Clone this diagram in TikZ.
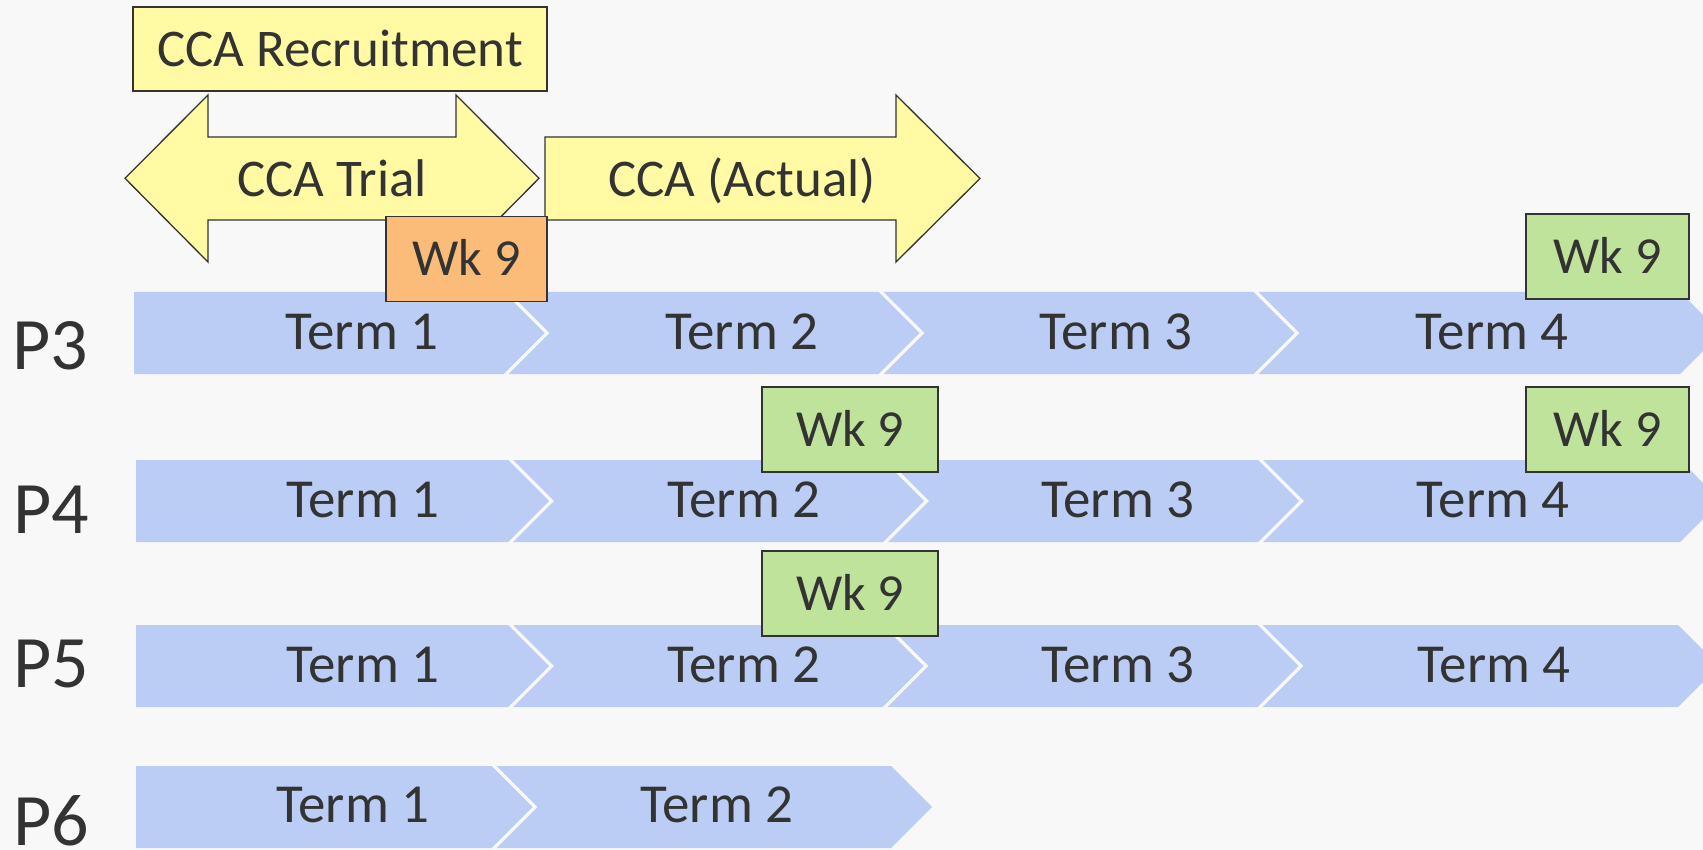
\documentclass[tikz,border=0pt]{standalone}
\usepackage{fontspec}
\setmainfont{Carlito}
\definecolor{bg}{HTML}{F8F8F8}
\definecolor{termblue}{HTML}{BBCDF4}
\definecolor{ccayellow}{HTML}{FFFAA3}
\definecolor{wkorange}{HTML}{FABC78}
\definecolor{wkgreen}{HTML}{C0E39B}
\definecolor{txt}{HTML}{333333}
\definecolor{edge}{HTML}{333333}
% first chevron: left x, right boundary b, top y
\newcommand\chevfirst[3]{\fill[termblue] (#1,#3) -- ({#2-43.5},#3) -- ({#2-2.5},{#3+41}) -- ({#2-43.5},{#3+82}) -- (#1,{#3+82}) -- cycle;}
% later chevron: previous boundary a, next boundary b, top y
\newcommand\chevnext[3]{\fill[termblue] ({#1-38.5},#3) -- ({#2-43.5},#3) -- ({#2-2.5},{#3+41}) -- ({#2-43.5},{#3+82}) -- ({#1-38.5},{#3+82}) -- ({#1+2.5},{#3+41}) -- cycle;}
\begin{document}
\begin{tikzpicture}[x=1pt,y=-1pt,
  termtxt/.style={inner sep=0pt, text=txt, font=\fontsize{55}{60}\selectfont, anchor=base},
  ccatxt/.style={termtxt, font=\fontsize{53}{58}\selectfont},
  plabel/.style={inner sep=0pt, text=txt, font=\fontsize{74}{80}\selectfont, anchor=base west},
  ccashape/.style={fill=ccayellow, draw=edge, line width=1.3pt, line join=miter},
  boxbase/.style={draw=edge, line width=1.3pt, inner sep=0pt, text=txt, text height=34.5pt, text depth=0pt, align=center},
  ccabox/.style={boxbase, fill=ccayellow, font=\fontsize{53}{58}\selectfont, minimum height=84pt},
  wkbox/.style={boxbase, font=\fontsize{52}{58}\selectfont, text height=33.5pt, minimum height=85pt}
]
\useasboundingbox (0,0) rectangle (1703,850);
\fill[bg] (0,0) rectangle (1703,850);

% ---------- term rows ----------
% P3
\chevfirst{134}{547}{292}
\chevnext{547}{922}{292}
\chevnext{922}{1297}{292}
\chevnext{1297}{1723.5}{292}
% P4
\chevfirst{136}{551.5}{460}
\chevnext{551.5}{926.5}{460}
\chevnext{926.5}{1301.5}{460}
\chevnext{1301.5}{1723.5}{460}
% P5
\chevfirst{136}{551.5}{625}
\chevnext{551.5}{926}{625}
\chevnext{926}{1301}{625}
\chevnext{1301}{1721.5}{625}
% P6
\chevfirst{136}{535}{766}
\chevnext{535}{934.5}{766}

% term labels
\node[termtxt] (p3t1) at (362,349) {Term 1};
\node[termtxt] (p3t2) at (742,349) {Term 2};
\node[termtxt] (p3t3) at (1116,349) {Term 3};
\node[termtxt] (p3t4) at (1492,349) {Term 4};
\node[termtxt] (p4t1) at (363,517) {Term 1};
\node[termtxt] (p4t2) at (744,517) {Term 2};
\node[termtxt] (p4t3) at (1118,517) {Term 3};
\node[termtxt] (p4t4) at (1493,517) {Term 4};
\node[termtxt] (p5t1) at (363,682) {Term 1};
\node[termtxt] (p5t2) at (744,682) {Term 2};
\node[termtxt] (p5t3) at (1118,682) {Term 3};
\node[termtxt] (p5t4) at (1494,682) {Term 4};
\node[termtxt] (p6t1) at (353,822) {Term 1};
\node[termtxt] (p6t2) at (717,822) {Term 2};

% row labels
\node[plabel] (p3) at (12,369) {P3};
\node[plabel] (p4) at (13,533) {P4};
\node[plabel] (p5) at (13,687) {P5};
\node[plabel] (p6) at (13,845) {P6};

% ---------- CCA arrows ----------
\draw[ccashape] (125,178.3) -- (208,95) -- (208,137) -- (456,137) -- (456,95) -- (539,178.3)
  -- (456,262) -- (456,220) -- (208,220) -- (208,262) -- cycle;
\node[ccatxt] (trial) at (332,196.7) {CCA Trial};
\draw[ccashape] (545,137) -- (896,137) -- (896,95) -- (980,178.5) -- (896,262) -- (896,220)
  -- (545,220) -- cycle;
\node[ccatxt] (actual) at (742,196.7) {CCA (Actual)};

\node[ccabox, minimum width=414pt] (recruit) at (340,49) {CCA Recruitment};

% ---------- Wk 9 boxes ----------
\node[wkbox, fill=wkorange, minimum width=161pt] (wk0) at (466.5,259) {Wk 9};
\node[wkbox, fill=wkgreen, minimum width=163pt] (wk1) at (1607.5,256.5) {Wk 9};
\node[wkbox, fill=wkgreen, minimum width=176pt] (wk2) at (850,429.5) {Wk 9};
\node[wkbox, fill=wkgreen, minimum width=163pt] (wk3) at (1607.5,429.5) {Wk 9};
\node[wkbox, fill=wkgreen, minimum width=176pt] (wk4) at (850,593.5) {Wk 9};
\end{tikzpicture}
\end{document}
